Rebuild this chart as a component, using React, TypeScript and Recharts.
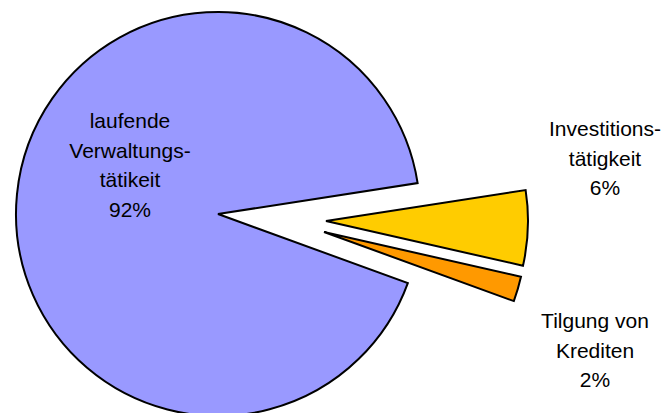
import React from 'react';
import { PieChart, Pie, Cell } from 'recharts';

// categories and values (share of total payments)
const categories = ['laufende\nVerwaltungs-\ntätikeit', 'Investitions-\ntätigkeit', 'Tilgung von\nKrediten'];
const values = [92, 6, 2];
const colors = ['#9999FF', '#FFCC00', '#FF9900'];

const total = values.reduce((a, b) => a + b, 0);
const data = categories.map((name, i) => ({ name, value: values[i] }));

// layout: pie centre, explode offsets per slice, label anchors
const CX = 218;
const CY = 214;
const RADIUS = 202;
const explode = [
  { dx: 0, dy: 0 },
  { dx: 108, dy: 7 },
  { dx: 106, dy: 18 },
];
const labelPos = [
  { x: 130, y: 120 },
  { x: 605, y: 128 },
  { x: 595, y: 320 },
];
const LINE_H = 29.5;

const renderLabel = (own: number) => (props: any) => {
  const { index } = props;
  if (index !== own) return null;
  const lines = [...categories[index].split('\n'), `${Math.round((values[index] / total) * 100)}%`];
  const pos = labelPos[index];
  return (
    <text
      key={`lbl-${index}`}
      x={pos.x}
      y={pos.y}
      textAnchor="middle"
      dominantBaseline="central"
      fill="#000"
      fontSize={21}
      fontFamily="'Liberation Sans', Arial, sans-serif"
    >
      {lines.map((line, i) => (
        <tspan key={i} x={pos.x} dy={i === 0 ? 0 : LINE_H}>
          {line}
        </tspan>
      ))}
    </text>
  );
};

export default function App() {
  return (
    <div style={{ position: 'absolute', left: 0, top: 0, width: 663, height: 413, background: '#fff' }}>
      <PieChart width={663} height={413} margin={{ top: 0, right: 0, bottom: 0, left: 0 }}>
        {data.map((_, own) => (
          <Pie
            key={`pie-${own}`}
            data={data}
            dataKey="value"
            nameKey="name"
            cx={CX + explode[own].dx}
            cy={CY + explode[own].dy}
            outerRadius={RADIUS}
            startAngle={-20}
            endAngle={-380}
            labelLine={false}
            label={renderLabel(own)}
            isAnimationActive={false}
          >
            {data.map((entry, index) => (
              <Cell
                key={`cell-${index}`}
                fill={index === own ? colors[index] : 'none'}
                stroke={index === own ? '#000' : 'none'}
                strokeWidth={2}
              />
            ))}
          </Pie>
        ))}
      </PieChart>
    </div>
  );
}
